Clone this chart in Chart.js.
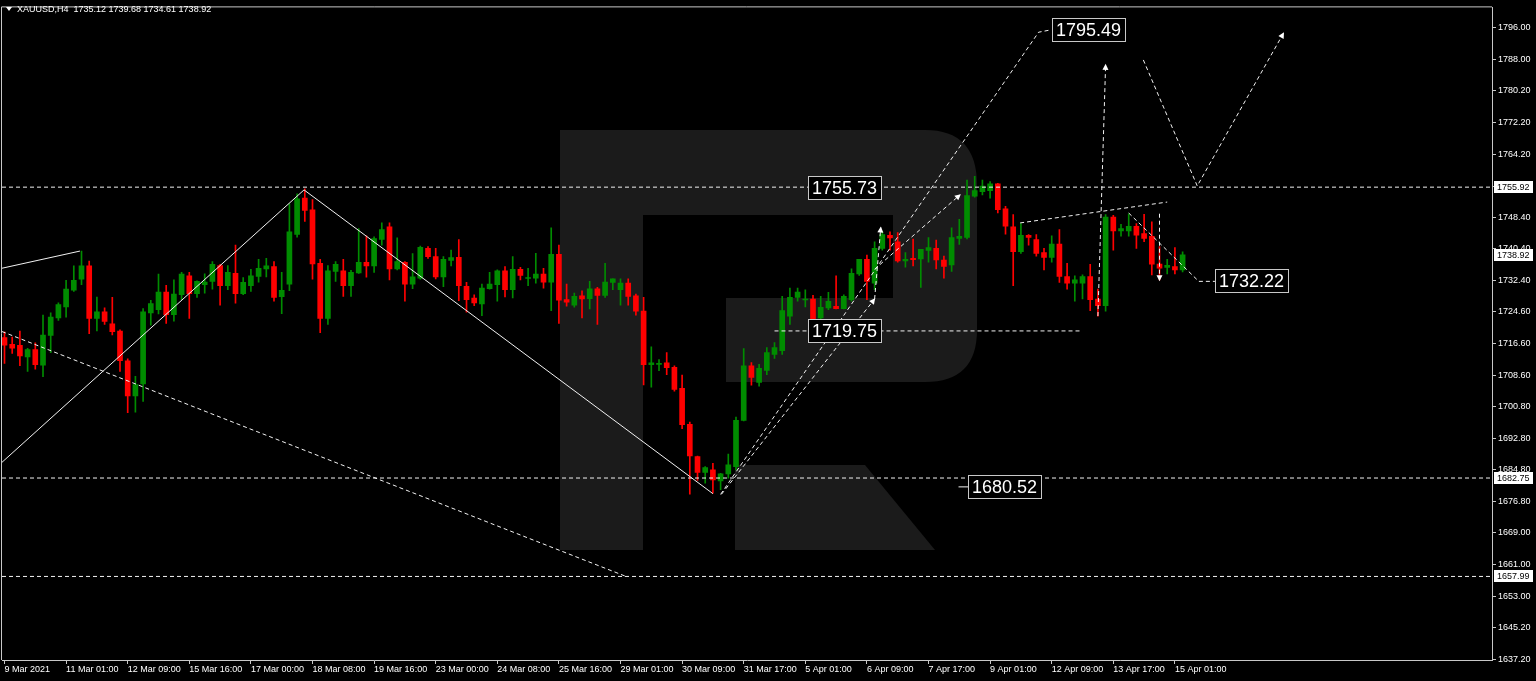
<!DOCTYPE html>
<html>
<head>
<meta charset="utf-8">
<script src="https://cdn.jsdelivr.net/npm/chart.js@4.4.0/dist/chart.umd.min.js"></script>
<style>
  html, body { margin: 0; padding: 0; background: #000; }
  #wrap { width: 1536px; height: 681px; }
</style>
</head>
<body>
<div id="wrap"><canvas id="xau" width="1536" height="681"></canvas></div>
<script>
// XAUUSD H4 candles, bar index 0 = 9 Mar 2021
const opens = [1718.06,1716.39,1716.14,1713.24,1715.06,1711.15,1718.63,1723.05,1725.79,1730.03,1732.78,1736.10,1722.87,1724.54,1721.55,1719.73,1712.24,1703.41,1706.41,1724.29,
  1725.12,1729.53,1723.87,1728.86,1733.60,1729.11,1731.36,1732.20,1736.20,1731.11,1734.27,1729.11,1731.11,1733.45,1735.35,1735.95,1728.36,1731.53,1744.01,1753.16,
  1750.24,1736.77,1722.87,1734.70,1734.85,1731.11,1734.35,1737.02,1736.10,1742.76,1745.93,1735.35,1737.02,1731.53,1733.03,1740.51,1738.44,1733.35,1737.52,1738.27,
  1730.96,1728.04,1726.54,1730.36,1731.36,1734.85,1730.11,1735.27,1732.95,1733.03,1734.03,1732.03,1739.02,1727.61,1726.22,1728.61,1727.86,1730.36,1728.71,1731.95,
  1730.11,1731.78,1728.61,1724.72,1711.25,1711.32,1711.75,1710.57,1705.33,1696.28,1688.12,1684.13,1684.80,1682.05,1683.80,1685.62,1697.27,1711.00,1706.83,1709.82,
  1713.82,1714.81,1723.47,1728.21,1727.54,1727.79,1723.05,1725.54,1725.97,1725.37,1727.61,1734.10,1737.77,1731.78,1740.51,1743.83,1742.18,1737.34,1738.02,1737.84,
  1740.01,1740.51,1737.59,1736.35,1743.01,1743.26,1753.66,1754.81,1755.06,1756.73,1750.49,1745.93,1739.69,1743.83,1742.76,1739.44,1738.27,1741.59,1733.45,1731.78,
  1731.78,1733.45,1727.79,1726.12,1748.42,1744.93,1744.93,1746.08,1744.25,1743.58,1736.60,1735.70,1735.95,1735.12];
const highs = [1719.55,1718.23,1719.73,1715.39,1716.74,1723.72,1724.29,1726.79,1732.45,1736.10,1739.84,1737.34,1728.29,1725.54,1728.21,1720.05,1712.74,1708.33,1725.37,1727.46,
  1734.03,1731.21,1732.60,1734.52,1734.52,1732.35,1734.10,1737.19,1736.52,1736.20,1741.34,1733.20,1735.27,1737.77,1738.02,1737.19,1734.52,1751.74,1754.23,1755.48,
  1752.81,1737.77,1736.20,1737.19,1737.77,1735.02,1745.50,1743.68,1743.43,1746.92,1746.92,1743.18,1737.19,1739.19,1741.09,1740.94,1740.51,1738.44,1740.09,1742.76,
  1731.95,1728.86,1731.53,1734.52,1735.10,1735.95,1738.44,1735.77,1735.52,1739.26,1735.52,1745.68,1741.34,1731.53,1729.28,1729.86,1732.20,1730.71,1736.77,1732.85,
  1732.85,1732.85,1729.04,1728.21,1715.74,1712.57,1714.31,1711.00,1708.65,1696.85,1688.29,1685.62,1686.45,1683.95,1688.79,1698.10,1715.31,1711.82,1711.32,1715.56,
  1716.81,1728.46,1730.53,1730.53,1730.11,1728.71,1728.46,1729.46,1733.60,1728.86,1735.35,1737.77,1738.84,1742.18,1744.83,1744.68,1744.50,1739.44,1742.83,1740.26,
  1743.26,1742.58,1738.59,1745.68,1747.82,1757.73,1758.65,1757.73,1757.30,1756.90,1751.07,1749.00,1746.75,1744.01,1744.01,1740.51,1743.68,1745.25,1736.77,1733.60,
  1733.85,1736.52,1730.28,1749.00,1748.82,1746.58,1749.24,1746.75,1749.07,1747.17,1740.94,1737.77,1740.69,1739.68];
const lows = [1711.57,1714.07,1711.00,1709.57,1710.15,1708.25,1714.31,1722.37,1723.22,1729.71,1731.36,1719.06,1719.73,1721.38,1718.73,1709.57,1699.17,1699.34,1702.01,1721.23,
  1724.05,1721.63,1722.22,1727.61,1722.87,1728.21,1729.28,1730.28,1726.22,1730.11,1726.72,1728.86,1729.71,1732.03,1733.35,1727.21,1724.12,1729.86,1743.33,1747.32,
  1732.78,1719.30,1721.38,1732.20,1728.46,1728.46,1734.20,1733.28,1734.45,1741.34,1732.60,1735.10,1727.21,1730.36,1732.78,1738.02,1732.85,1730.86,1736.10,1727.36,
  1724.47,1726.12,1723.62,1730.28,1727.21,1728.29,1728.04,1732.60,1731.11,1731.78,1730.53,1724.87,1721.63,1725.97,1725.72,1723.05,1725.29,1721.38,1728.21,1730.11,
  1726.22,1726.22,1723.72,1706.16,1705.58,1709.75,1708.75,1704.58,1695.18,1678.71,1682.13,1681.46,1678.96,1679.81,1682.70,1684.80,1697.10,1706.08,1705.83,1708.75,
  1712.82,1713.82,1721.38,1727.21,1725.79,1721.80,1722.22,1725.12,1725.29,1725.29,1727.21,1733.70,1727.61,1730.11,1740.09,1740.09,1737.02,1735.77,1736.10,1730.71,
  1737.02,1735.35,1733.03,1734.70,1741.51,1742.90,1753.41,1753.99,1753.16,1749.42,1744.08,1731.11,1739.26,1741.34,1738.59,1735.10,1737.02,1731.95,1730.28,1727.21,
  1727.79,1724.87,1723.47,1724.72,1740.09,1743.58,1743.58,1740.51,1742.18,1733.85,1732.60,1734.10,1734.10,1734.61];
const closes = [1716.14,1715.39,1713.49,1715.06,1711.25,1718.73,1723.22,1726.37,1730.28,1732.45,1736.10,1722.87,1724.54,1722.12,1719.55,1712.24,1703.41,1706.26,1724.54,1726.62,
  1729.53,1723.87,1729.04,1734.03,1729.11,1732.20,1732.03,1736.52,1731.11,1734.52,1729.11,1731.95,1733.60,1735.52,1736.10,1728.21,1729.96,1744.68,1752.99,1750.07,
  1736.60,1722.87,1734.85,1736.52,1731.11,1734.52,1737.02,1736.10,1743.01,1745.25,1735.35,1737.19,1731.53,1733.35,1740.76,1738.44,1733.35,1737.77,1738.19,1731.11,
  1727.61,1726.79,1730.53,1731.53,1734.85,1730.11,1735.27,1733.70,1733.20,1734.03,1732.03,1739.02,1727.46,1726.96,1728.46,1727.79,1730.36,1728.66,1732.03,1732.85,
  1731.78,1728.46,1724.72,1711.25,1711.75,1711.57,1710.50,1705.01,1696.18,1688.29,1684.13,1685.37,1682.30,1683.80,1686.05,1697.27,1711.00,1708.08,1710.32,1714.31,
  1715.56,1724.87,1728.21,1729.53,1727.79,1722.22,1725.72,1727.21,1725.37,1728.46,1734.27,1737.77,1732.20,1740.51,1744.01,1743.18,1737.34,1737.77,1737.69,1740.26,
  1740.69,1737.59,1735.95,1743.26,1743.58,1753.81,1755.06,1756.16,1756.73,1750.24,1746.08,1739.69,1743.83,1743.26,1739.26,1738.27,1741.59,1733.45,1731.78,1732.60,
  1733.45,1727.61,1726.12,1748.42,1744.93,1745.50,1746.08,1743.83,1743.01,1736.52,1735.52,1736.27,1735.10,1738.92];

// time axis labels, one every 8 bars
const dateLabels = ["9 Mar 2021","11 Mar 01:00","12 Mar 09:00","15 Mar 16:00","17 Mar 00:00","18 Mar 08:00","19 Mar 16:00",
  "23 Mar 00:00","24 Mar 08:00","25 Mar 16:00","29 Mar 01:00","30 Mar 09:00","31 Mar 17:00","5 Apr 01:00","6 Apr 09:00",
  "7 Apr 17:00","9 Apr 01:00","12 Apr 09:00","13 Apr 17:00","15 Apr 01:00"];
const labelBars = [0,8,16,24,32,40,48,56,64,72,80,88,96,104,112,120,128,136,144,152];

const priceTicks = [1796.00,1788.00,1780.20,1772.20,1764.20,1756.20,1748.40,1740.40,1732.40,1724.60,1716.60,1708.60,
  1700.80,1692.80,1684.80,1676.80,1669.00,1661.00,1653.00,1645.20,1637.20];
const levelPrices = [1755.92, 1682.75, 1657.99];

// drawn objects (bar index, price)
const trendBars = [-0.33, 9.8],        trendPrices = [1735.52, 1739.84];
const zigBars = [-0.33, 38.9, 92],      zigPrices = [1686.7, 1755.23, 1678.81];
const chanBars = [-0.33, 80.8],         chanPrices = [1719.6, 1657.93];
const supBars = [100, 140],             supPrices = [1719.75, 1719.75];
const longBars = [93, 134.3, 135.9],    longPrices = [1678.64, 1794.9, 1795.49];
const upBars = [93.1, 113],             upPrices = [1678.64, 1727.79];
const vertBars = [113, 113.8],          vertPrices = [1727.79, 1745.75];
const stepBars = [113, 124.1],          stepPrices = [1735.27, 1753.99];
const triBars = [131.9, 151],           triPrices = [1746.92, 1752.17];
const spikeBars = [142, 143],           spikePrices = [1723.5, 1786.7];
const vBars = [147.9, 154.9, 166.1],    vPrices = [1787.92, 1756.23, 1794.65];
const downBars = [146, 155.1, 157.2],   downPrices = [1749.42, 1732.22, 1732.22];
const smallBars = [150, 150],           smallPrices = [1749.24, 1732.53];
const lowLeadBars = [123.9, 125.2],     lowLeadPrices = [1680.52, 1680.52];

const boxPrices = [1795.49, 1755.73, 1719.75, 1680.52, 1732.22];
const boxBars = [136.0, 104.4, 104.4, 125.1, 157.2];

const GREEN = '#008c00', RED = '#ff0000';
const X_MIN = -0.325, X_MAX = 193.18;
const Y_MIN = 1636.97, Y_MAX = 1801.14;

const candleColors = opens.map((o, i) => closes[i] >= o ? GREEN : RED);

function objLine(bars, prices, dash, arrow) {
  return {
    type: 'line',
    data: bars.map((b, i) => ({ x: b, y: prices[i] })),
    borderColor: '#f2f2f2',
    borderWidth: 1,
    borderDash: dash || [],
    pointRadius: 0,
    tension: 0,
    fill: false,
    order: 0,
    arrow: !!arrow
  };
}

const levelLines = levelPrices.map(p => objLine([X_MIN, X_MAX], [p, p], [4, 3]));

const ctx = document.getElementById('xau').getContext('2d');

const overlay = {
  id: 'overlay',
  beforeDatasetsDraw(chart) {
    // faint logo watermark
    const c = chart.ctx;
    c.save();
    c.fillStyle = '#1b1b1b';
    c.fillRect(560, 130, 83, 420);
    c.beginPath();
    c.moveTo(643, 130); c.lineTo(925, 130);
    c.quadraticCurveTo(977, 130, 977, 185);
    c.lineTo(977, 330);
    c.quadraticCurveTo(977, 382, 925, 382);
    c.lineTo(726, 382); c.lineTo(726, 298); c.lineTo(893, 298); c.lineTo(893, 215); c.lineTo(643, 215);
    c.closePath();
    c.fill();
    c.beginPath();
    c.moveTo(735, 465); c.lineTo(865, 465); c.lineTo(935, 550); c.lineTo(735, 550);
    c.closePath();
    c.fill();
    c.restore();
  },
  afterDatasetsDraw(chart) {
    // arrow heads at ends of forecast lines
    const c = chart.ctx;
    c.save();
    c.fillStyle = '#ffffff';
    chart.data.datasets.forEach((ds, di) => {
      if (!ds.arrow) return;
      const pts = chart.getDatasetMeta(di).data;
      const a = pts[pts.length - 2], b = pts[pts.length - 1];
      const ang = Math.atan2(b.y - a.y, b.x - a.x);
      c.save();
      c.translate(b.x, b.y);
      c.rotate(ang);
      c.beginPath();
      c.moveTo(1, 0); c.lineTo(-5, -3); c.lineTo(-5, 3);
      c.closePath();
      c.fill();
      c.restore();
    });
    c.restore();
  },
  afterDraw(chart) {
    const c = chart.ctx;
    const xs = chart.scales.x, ys = chart.scales.y;
    const area = chart.chartArea;
    c.save();
    // frame
    c.strokeStyle = '#c8c8c8';
    c.lineWidth = 1;
    c.beginPath();
    c.moveTo(area.left - 0.5, area.bottom); c.lineTo(area.left - 0.5, area.top - 0.5); c.lineTo(area.right, area.top - 0.5);
    c.stroke();

    // price level tags on the axis
    const tags = levelPrices.concat([closes[closes.length - 1]]);
    c.font = '9px "Liberation Sans", Arial, sans-serif';
    c.textBaseline = 'middle';
    tags.forEach(p => {
      const y = Math.round(ys.getPixelForValue(p));
      c.fillStyle = '#ffffff';
      c.fillRect(area.right + 2, y - 6, 39, 12);
      c.fillStyle = '#000000';
      c.fillText(p.toFixed(2), area.right + 5, y + 0.5);
    });

    // value boxes on the chart
    c.font = '18px "Liberation Sans", Arial, sans-serif';
    boxPrices.forEach((p, i) => {
      const txt = p.toFixed(2);
      const x = Math.round(xs.getPixelForValue(boxBars[i]));
      const y = Math.round(ys.getPixelForValue(p));
      const w = Math.ceil(c.measureText(txt).width) + 7;
      c.fillStyle = '#000000';
      c.fillRect(x, y - 12, w, 24);
      c.strokeStyle = '#c8c8c8';
      c.strokeRect(x + 0.5, y - 11.5, w, 23);
      c.fillStyle = '#ffffff';
      c.fillText(txt, x + 4, y + 1);
    });

    // symbol header
    const n = closes.length - 1;
    c.fillStyle = '#ffffff';
    c.beginPath();
    c.moveTo(6, 7); c.lineTo(12, 7); c.lineTo(9, 11);
    c.closePath();
    c.fill();
    c.font = '9px "Liberation Sans", Arial, sans-serif';
    c.fillText('XAUUSD,H4  ' + [opens[n], highs[n], lows[n], closes[n]].map(v => v.toFixed(2)).join(' '), 17, 9.5);
    c.restore();
  }
};

new Chart(ctx, {
  type: 'bar',
  data: {
    datasets: [
      objLine(trendBars, trendPrices, []),
      objLine(zigBars, zigPrices, []),
      objLine(chanBars, chanPrices, [4, 3]),
      ...levelLines,
      objLine(supBars, supPrices, [4, 3]),
      objLine(longBars, longPrices, [4, 3]),
      objLine(upBars, upPrices, [4, 3], true),
      objLine(vertBars, vertPrices, [4, 3], true),
      objLine(stepBars, stepPrices, [4, 3], true),
      objLine(triBars, triPrices, [4, 3]),
      objLine(spikeBars, spikePrices, [4, 3], true),
      objLine(vBars, vPrices, [4, 3], true),
      objLine(downBars, downPrices, [4, 3]),
      objLine(smallBars, smallPrices, [4, 3], true),
      objLine(lowLeadBars, lowLeadPrices, []),
      {
        label: 'wick',
        data: opens.map((o, i) => ({ x: i, y: [lows[i], highs[i]] })),
        backgroundColor: candleColors,
        barThickness: 1,
        grouped: false,
        minBarLength: 1,
        order: 2
      },
      {
        label: 'body',
        data: opens.map((o, i) => ({ x: i, y: [o, closes[i]] })),
        backgroundColor: candleColors,
        barThickness: 5,
        grouped: false,
        minBarLength: 1,
        order: 1
      }
    ]
  },
  options: {
    responsive: false,
    animation: false,
    devicePixelRatio: 1,
    layout: { padding: { left: 2, top: 2, right: 0, bottom: 0 } },
    plugins: { legend: { display: false }, tooltip: { enabled: false } },
    scales: {
      x: {
        type: 'linear',
        min: X_MIN,
        max: X_MAX,
        offset: false,
        afterBuildTicks: s => { s.ticks = labelBars.map(v => ({ value: v })); },
        afterFit: s => { s.height = 21; },
        ticks: {
          autoSkip: false,
          maxRotation: 0,
          minRotation: 0,
          align: 'start',
          padding: 0,
          color: '#ffffff',
          font: { family: '"Liberation Sans", Arial, sans-serif', size: 9 },
          callback: (v, i) => dateLabels[i]
        },
        grid: { drawOnChartArea: false, drawTicks: true, tickLength: 4, color: '#c8c8c8', offset: false },
        border: { color: '#c8c8c8' }
      },
      y: {
        type: 'linear',
        position: 'right',
        min: Y_MIN,
        max: Y_MAX,
        afterBuildTicks: s => { s.ticks = priceTicks.map(v => ({ value: v })); },
        afterFit: s => { s.width = 44; },
        ticks: {
          padding: 2,
          color: '#ffffff',
          font: { family: '"Liberation Sans", Arial, sans-serif', size: 9 },
          callback: v => v.toFixed(2)
        },
        grid: { drawOnChartArea: false, drawTicks: true, tickLength: 4, color: '#c8c8c8' },
        border: { color: '#c8c8c8' }
      }
    }
  },
  plugins: [overlay]
});
</script>
</body>
</html>
